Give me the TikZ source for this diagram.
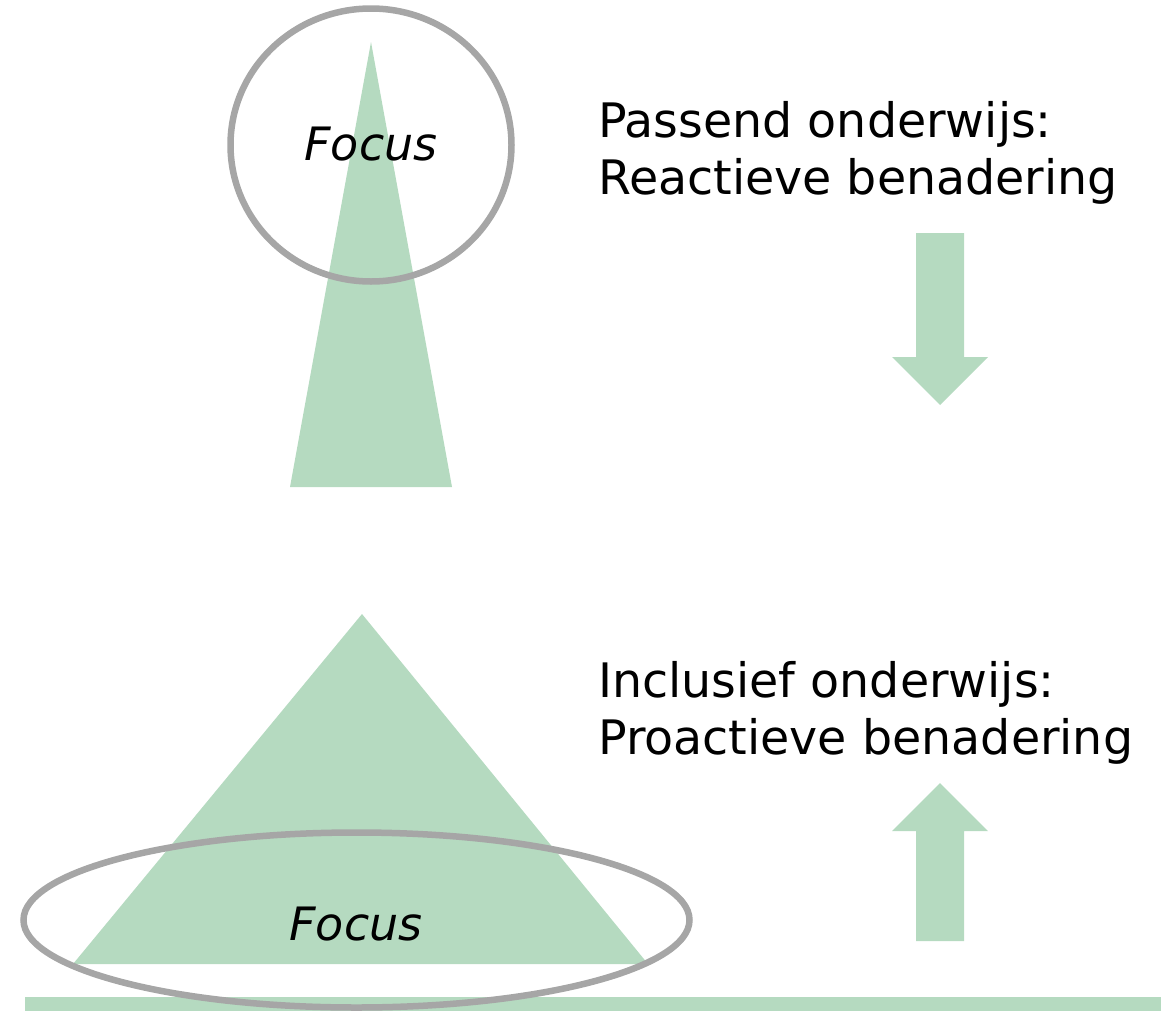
\documentclass[tikz,border=0pt]{standalone}
\usepackage{fontspec}
\setmainfont{DejaVu Sans}
\definecolor{fgreen}{HTML}{B5DAC0}
\definecolor{fgray}{HTML}{A6A6A6}
\begin{document}
\begin{tikzpicture}[x=1bp,y=-1bp,
  shapefill/.style={fill=fgreen,draw=none},
  focusring/.style={draw=fgray,line width=6.5bp},
  labeltext/.style={anchor=base west,inner sep=0pt,font=\fontsize{47.5bp}{57bp}\selectfont},
  focustext/.style={anchor=base,inner sep=0pt,font=\fontsize{46bp}{52bp}\selectfont\itshape}]
\useasboundingbox (0,0) rectangle (1161,1011);
% top: narrow triangle
\fill[shapefill] (371,42) -- (452,487) -- (290,487) -- cycle;
\draw[focusring] (371,145) ellipse [x radius=140.5, y radius=136.5];
\node[focustext] (f1) at (371,160) {Focus};
% top text
\node[labeltext] (t1) at (598,137) {Passend onderwijs:};
\node[labeltext] (t2) at (598,194) {Reactieve benadering};
% down arrow
\fill[shapefill] (916,233) -- (964,233) -- (964,357) -- (988,357) -- (940,405) -- (892,357) -- (916,357) -- cycle;
% bottom: wide triangle
\fill[shapefill] (362,614) -- (648,964) -- (73,964) -- cycle;
\fill[shapefill] (25,997) rectangle (1161,1011);
\draw[focusring] (356.5,920) ellipse [x radius=333, y radius=87.5];
\node[focustext] (f2) at (356,940) {Focus};
% bottom text
\node[labeltext] (t3) at (598,697) {Inclusief onderwijs:};
\node[labeltext] (t4) at (598,754) {Proactieve benadering};
% up arrow
\fill[shapefill] (940,783) -- (988,831) -- (964,831) -- (964,941) -- (916,941) -- (916,831) -- (892,831) -- cycle;
\end{tikzpicture}
\end{document}
